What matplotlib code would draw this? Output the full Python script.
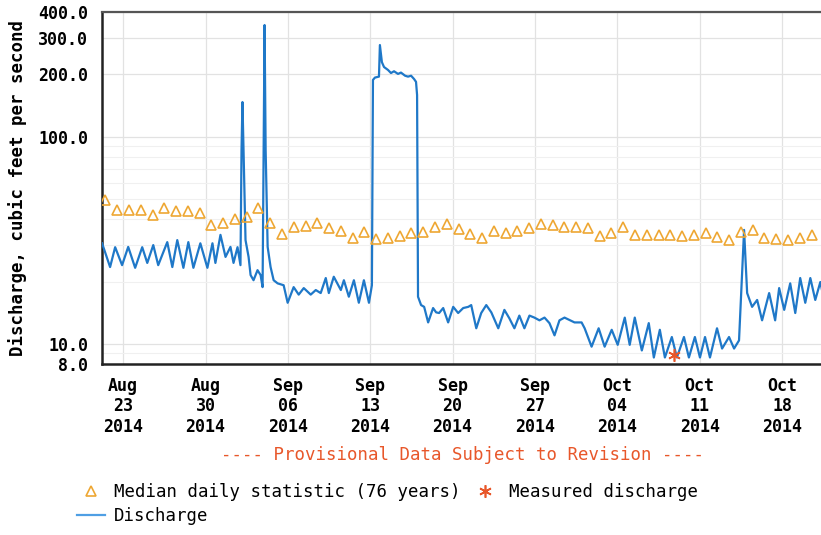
import numpy as np
import pandas as pd
import matplotlib
matplotlib.use("Agg")
import matplotlib.pyplot as plt
import matplotlib.dates as mdates
from matplotlib.lines import Line2D

# Period start; all times below are day offsets from this moment
START = pd.Timestamp("2014-08-21 00:00")

# Discharge (cfs)
dis_days = [
    0.21, 0.89, 1.32, 1.91, 2.43, 3.02, 3.62, 4.05, 4.56, 4.98,
    5.75, 6.18, 6.60, 7.12, 7.54, 7.97, 8.56, 9.16, 9.59, 9.84,
    10.27, 10.70, 11.12, 11.38, 11.72, 11.97, 12.06, 12.14, 12.23, 12.40,
    12.66, 12.83, 13.08, 13.42, 13.68, 13.85, 13.94, 14.02, 14.11, 14.28,
    14.53, 14.79, 15.13, 15.64, 15.98, 16.49, 16.92, 17.35, 17.94, 18.37,
    18.79, 19.22, 19.48, 19.90, 20.50, 20.76, 21.18, 21.61, 22.03, 22.46,
    22.89, 23.14, 23.23, 23.40, 23.74, 23.82, 23.99, 24.17, 24.51, 24.76,
    25.02, 25.36, 25.61, 25.96, 26.21, 26.47, 26.72, 26.89, 26.98, 27.06,
    27.32, 27.58, 27.92, 28.34, 28.60, 28.85, 29.20, 29.62, 30.05, 30.47,
    30.90, 31.33, 31.58, 32.01, 32.43, 32.86, 33.29, 33.88, 34.40, 34.82,
    35.25, 35.67, 36.10, 36.53, 36.95, 37.38, 37.81, 38.23, 38.66, 39.08,
    39.51, 40.36, 40.96, 41.22, 41.81, 42.41, 42.92, 43.52, 44.03, 44.63,
    45.05, 45.48, 46.08, 46.67, 47.10, 47.61, 48.04, 48.63, 49.06, 49.66,
    50.08, 50.59, 51.02, 51.45, 51.87, 52.47, 52.90, 53.49, 53.92, 54.34,
    54.77, 55.03, 55.45, 55.88, 56.30, 56.90, 57.41, 57.75, 58.18, 58.69,
    59.12, 59.54, 59.97, 60.40, 60.82, 61.25, 61.51,
]
dis_cfs = [
    30.6, 23.5, 29.3, 24.0, 29.4, 23.3, 29.3, 24.6, 30.0, 24.0,
    31.0, 23.5, 31.7, 23.3, 31.0, 23.3, 30.6, 23.3, 30.6, 24.6,
    33.6, 26.3, 29.4, 24.6, 29.3, 24.0, 86.0, 147.0, 86.0, 31.7,
    26.3, 21.5, 20.3, 22.7, 21.5, 18.8, 86.0, 346.0, 86.0, 29.4,
    23.5, 20.3, 19.6, 19.2, 15.8, 18.8, 17.3, 18.6, 17.3, 18.2,
    17.6, 20.8, 17.6, 21.1, 18.2, 20.3, 16.9, 20.3, 15.8, 20.3,
    15.8, 19.2, 188.0, 193.0, 195.0, 277.0, 229.0, 217.0, 210.0, 203.0,
    207.0, 201.0, 204.0, 197.0, 195.0, 197.0, 190.0, 184.0, 159.0, 16.9,
    15.4, 15.1, 12.7, 14.9, 14.2, 14.1, 14.9, 12.7, 15.1, 14.1,
    14.9, 15.1, 15.4, 11.9, 14.1, 15.4, 14.2, 11.9, 14.6, 13.3,
    11.9, 13.7, 11.9, 13.7, 13.4, 13.0, 13.4, 12.6, 11.0, 13.0,
    13.4, 12.7, 12.7, 11.9, 9.7, 11.9, 9.7, 11.7, 9.9, 13.4,
    9.9, 13.4, 9.3, 12.6, 8.6, 11.7, 8.6, 10.8, 8.6, 10.8,
    8.6, 10.8, 8.6, 10.8, 8.6, 11.9, 9.5, 10.8, 9.5, 10.4,
    35.5, 17.6, 15.1, 16.3, 13.0, 17.6, 13.0, 18.6, 14.6, 19.6,
    14.1, 20.8, 15.8, 20.8, 16.3, 19.9, 16.9,
]

# Median daily statistic (76 years), one value per day at noon from Aug 21
median_cfs = [
    49.5, 44.3, 44.3, 44.3, 41.9, 45.3, 44.0, 43.6, 42.8, 37.5,
    38.3, 40.3, 41.2, 45.3, 38.3, 33.8, 36.6, 37.0, 38.3, 36.2,
    35.0, 32.6, 34.6, 32.2, 32.6, 33.1, 34.2, 34.6, 36.6, 38.0,
    35.8, 33.8, 32.6, 35.0, 34.2, 35.0, 36.2, 38.0, 37.3, 36.6,
    36.6, 36.2, 33.1, 34.2, 36.6, 33.5, 33.5, 33.5, 33.5, 33.1,
    33.5, 34.2, 32.9, 31.7, 34.6, 35.4, 32.6, 32.2, 31.7, 32.6,
    33.5,
]

# Measured discharge (field measurement)
meas_days = [48.8]
meas_cfs = [8.8]

tick_dates = pd.date_range("2014-08-23", periods=9, freq="7D")
y_ticks = [8, 10, 100, 200, 300, 400]
y_ticklabels = ["8.0", "10.0", "100.0", "200.0", "300.0", "400.0"]

BLUE = "#1f78c8"
GOLD = "#eea733"
RED = "#e8572a"
MONO = "DejaVu Sans Mono"

dis_t = START + pd.to_timedelta(dis_days, unit="D")
med_t = START + pd.to_timedelta(np.arange(len(median_cfs)) + 0.5, unit="D")
meas_t = START + pd.to_timedelta(meas_days, unit="D")

fig = plt.figure(figsize=(8.21, 5.35), dpi=100)
ax = fig.add_axes([0.1242, 0.3196, 0.88, 0.658])

ax.plot(dis_t, dis_cfs, color=BLUE, lw=1.6, zorder=3)
ax.plot(med_t, median_cfs, ls="none", marker="^", ms=6.5, mfc="none",
        mec=GOLD, mew=1.2, zorder=4)
ax.plot(meas_t, meas_cfs, ls="none", marker=(6, 2, 0), ms=9, color=RED,
        mew=1.2, zorder=5)

ax.set_yscale("log")
ax.set_ylim(8, 400)
ax.set_xlim(START + pd.Timedelta(days=0.2), START + pd.Timedelta(days=61.6))

ax.set_yticks(y_ticks)
ax.set_yticklabels(y_ticklabels)
ax.yaxis.set_minor_locator(matplotlib.ticker.LogLocator(subs=np.arange(2, 10)))
ax.yaxis.set_minor_formatter(matplotlib.ticker.NullFormatter())
ax.set_xticks(tick_dates)
ax.xaxis.set_major_formatter(mdates.DateFormatter("%b\n%d\n%Y"))

ax.grid(True, which="major", color="#e2e2e2", lw=0.9)
ax.grid(True, which="minor", axis="y", color="#f0f0f0", lw=0.8)
ax.set_axisbelow(True)

ax.tick_params(axis="both", which="both", length=0)
ax.tick_params(axis="y", pad=10)
ax.tick_params(axis="x", pad=9)
for lab in ax.get_xticklabels() + ax.get_yticklabels():
    lab.set_fontfamily(MONO)
    lab.set_fontweight("bold")
    lab.set_fontsize(12)

for side in ["left", "bottom"]:
    ax.spines[side].set_color("#222222")
    ax.spines[side].set_linewidth(1.8)
ax.spines["top"].set_color("#555555")
ax.spines["top"].set_linewidth(1.6)
ax.spines["right"].set_visible(False)

fig.text(18 / 821, 1 - 188 / 535, "Discharge, cubic feet per second",
         rotation=90, ha="center", va="center", family=MONO,
         fontweight="bold", fontsize=12.5)

fig.text(462 / 821, 1 - 455 / 535,
         "---- Provisional Data Subject to Revision ----",
         ha="center", va="center", family=MONO, fontsize=12.5, color=RED)

handles = [
    Line2D([], [], ls="none", marker="^", ms=7, mfc="none", mec=GOLD, mew=1.2),
    Line2D([], [], color="#4f9fe4", lw=1.6),
    Line2D([], [], ls="none", marker=(6, 2, 0), ms=9, color=RED, mew=1.2),
]
labels = ["Median daily statistic (76 years)", "Discharge", "Measured discharge"]
fig.legend(handles, labels, ncol=2, loc="upper left",
           bbox_to_anchor=(77 / 821, 1 - 483 / 535), frameon=False,
           borderaxespad=0, borderpad=0, handlelength=1.6, handletextpad=0.55,
           columnspacing=0.6, labelspacing=0.35,
           prop={"family": MONO, "size": 12.5})

fig.savefig("out.png", dpi=100)
